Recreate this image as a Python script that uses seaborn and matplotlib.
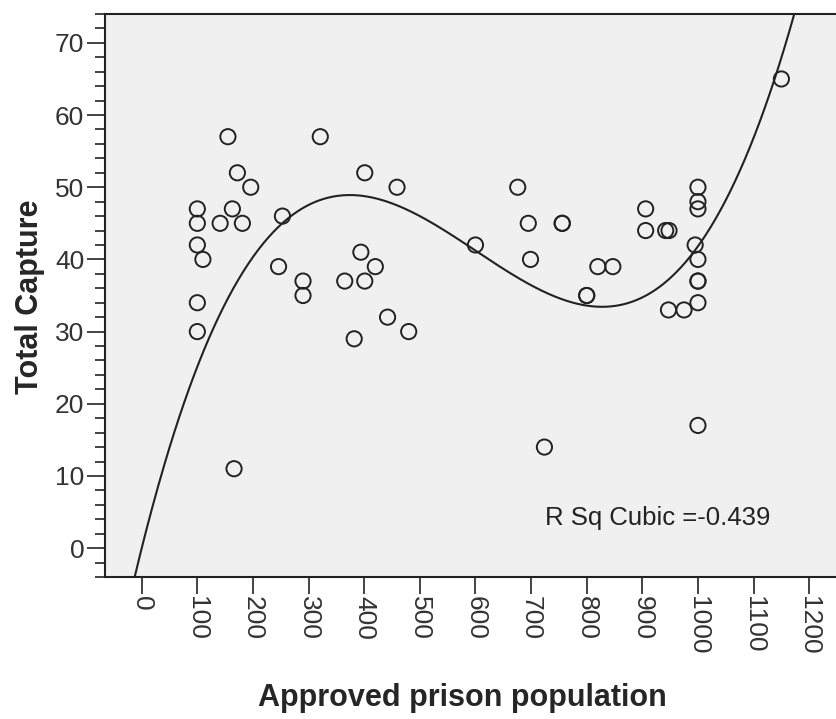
import numpy as np
import pandas as pd
import matplotlib
matplotlib.use("Agg")
import matplotlib.pyplot as plt
from matplotlib.ticker import MultipleLocator
import seaborn as sns

# ---- data ----
approved = [100, 100, 100, 110, 100, 100, 155, 172, 196, 163, 141, 181, 166,
            253, 246, 290, 290, 321, 401, 365, 394, 401, 420, 382, 442, 480,
            459, 600, 676, 695, 699, 756, 756, 724, 800, 800, 820, 847, 906,
            906, 942, 948, 947, 975, 1000, 1000, 1000, 995, 1000, 1000, 1000,
            1000, 1000, 1150]
capture = [47, 45, 42, 40, 34, 30, 57, 52, 50, 47, 45, 45, 11,
           46, 39, 37, 35, 57, 52, 37, 41, 37, 39, 29, 32, 30,
           50, 42, 50, 45, 40, 45, 45, 14, 35, 35, 39, 39, 47,
           44, 44, 44, 33, 33, 50, 48, 47, 42, 40, 37, 37,
           34, 17, 65]
x_ticks = [0, 100, 200, 300, 400, 500, 600, 700, 800, 900, 1000, 1100, 1200]
y_ticks = [0, 10, 20, 30, 40, 50, 60, 70]
annotation = "R Sq Cubic =-0.439"
x_label = "Approved prison population"
y_label = "Total Capture"

df = pd.DataFrame({"approved": approved, "capture": capture})

# cubic least-squares fit without constant term
X = np.column_stack([df.approved, df.approved ** 2, df.approved ** 3]).astype(float)
coef, *_ = np.linalg.lstsq(X, df.capture.astype(float), rcond=None)
xs = np.linspace(-70, 1260, 600)
fit = pd.DataFrame({"approved": xs,
                    "capture": coef[0] * xs + coef[1] * xs ** 2 + coef[2] * xs ** 3})

sns.set_style("white")
plt.rcParams["font.family"] = ["Liberation Sans", "DejaVu Sans"]

fig = plt.figure(figsize=(8.37, 7.19), dpi=100)
ax = fig.add_axes([105 / 837, 1 - 577 / 719, 1 - 105 / 837, (577 - 14) / 719])
ax.set_facecolor("#F0F0F0")

sns.lineplot(data=fit, x="approved", y="capture", ax=ax, color="#222222",
             linewidth=1.5, sort=False, zorder=2)
sns.scatterplot(data=df, x="approved", y="capture", ax=ax, s=120,
                facecolor="none", edgecolor="#222222", linewidth=1.4, zorder=3)

ax.set_xlim(-66, 1250)
ax.set_ylim(-4, 74)
ax.set_xticks(x_ticks)
ax.set_yticks(y_ticks)
ax.yaxis.set_minor_locator(MultipleLocator(2))
ax.tick_params(axis="y", which="major", direction="out", length=13, width=1.2,
               color="#222222", labelsize=19, labelcolor="#333333", pad=2, left=True)
ax.tick_params(axis="y", which="minor", direction="out", length=7, width=1.2,
               color="#222222", left=True)
ax.tick_params(axis="x", which="major", direction="out", length=12, width=1.2,
               color="#222222", labelsize=19, labelcolor="#333333", pad=2,
               bottom=True, labelrotation=270)

for side in ["left", "bottom", "top"]:
    ax.spines[side].set_visible(True)
    ax.spines[side].set_color("#222222")
    ax.spines[side].set_linewidth(1.5)
ax.spines["right"].set_visible(False)

ax.set_xlabel(x_label, fontsize=22, fontweight="bold")
ax.set_ylabel(y_label, fontsize=22, fontweight="bold")
ax.xaxis.set_label_coords((462 - 105) / 732, (577 - 698) / 563)
ax.yaxis.set_label_coords((30 - 105) / 732, (577 - 297) / 563)
ax.xaxis.label.set_va("center")
ax.yaxis.label.set_va("center")

ax.text(0.601, 0.105, annotation, transform=ax.transAxes, fontsize=18.5,
        color="#222222", va="center", ha="left")

fig.savefig("out.png", dpi=100)
